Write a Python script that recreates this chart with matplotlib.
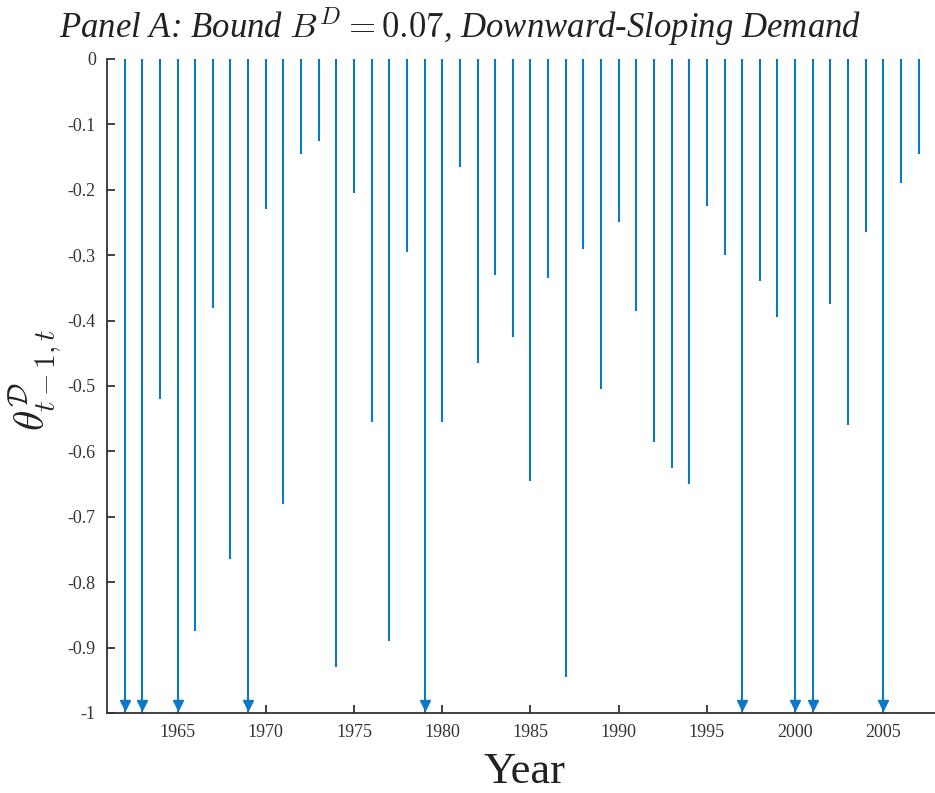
import numpy as np
import matplotlib
matplotlib.use('Agg')
import matplotlib.pyplot as plt

# years and theta values (values clipped at the -1 bound are stored as -1)
years = np.arange(1962, 2008)
theta = [-1.0, -1.0, -0.52, -1.0, -0.875, -0.38, -0.765, -1.0, -0.23, -0.68,
         -0.145, -0.125, -0.93, -0.205, -0.555, -0.89, -0.295, -1.0, -0.555, -0.165,
         -0.465, -0.33, -0.425, -0.645, -0.335, -0.945, -0.29, -0.505, -0.25, -0.385,
         -0.585, -0.625, -0.65, -0.225, -0.30, -1.0, -0.34, -0.395, -1.0, -1.0,
         -0.375, -0.56, -0.265, -1.0, -0.19, -0.145]
xticks = [1965, 1970, 1975, 1980, 1985, 1990, 1995, 2000, 2005]
yticks = [0, -0.1, -0.2, -0.3, -0.4, -0.5, -0.6, -0.7, -0.8, -0.9, -1]
ylabels = ['0', '-0.1', '-0.2', '-0.3', '-0.4', '-0.5', '-0.6', '-0.7', '-0.8', '-0.9', '-1']

plt.rcParams['font.family'] = ['Liberation Serif', 'DejaVu Serif']
plt.rcParams['mathtext.fontset'] = 'cm'
plt.rcParams['axes.unicode_minus'] = False

blue = '#0B78C8'

fig = plt.figure(figsize=(9.35, 7.93), dpi=100)
ax = fig.add_axes([0.1144, 0.1009, 0.887, 0.8247])

theta = np.array(theta)
ax.vlines(years, 0, theta, color=blue, lw=1.5)

clipped = theta <= -1
ax.plot(years[clipped], theta[clipped] + 0.012, linestyle='none', marker='v',
        markersize=6.5, color=blue, clip_on=False, zorder=3)

ax.set_xlim(1961, 2008)
ax.set_ylim(-1, 0)
ax.set_xticks(xticks)
ax.set_xticklabels([str(x) for x in xticks])
ax.set_yticks(yticks)
ax.set_yticklabels(ylabels)

for s in ['top', 'right']:
    ax.spines[s].set_visible(False)
for s in ['left', 'bottom']:
    ax.spines[s].set_linewidth(1.3)
    ax.spines[s].set_color('#333333')

ax.tick_params(direction='in', length=6, width=1.3, color='#333333',
               labelsize=13, labelcolor='#333333', pad=8)

ax.set_xlabel('Year', fontsize=32, color='#222222')
ax.xaxis.set_label_coords(0.504, -0.09)
ax.xaxis.label.set_va('center')

ax.set_ylabel(r'$\theta^{\mathcal{D}}_{t-1,t}$', fontsize=30, color='#222222')
ax.yaxis.set_label_coords(-0.087, 0.51)
ax.yaxis.label.set_va('center')

fig.text(0.492, 0.966, r'Panel A: Bound $B^{D} = 0.07$, Downward-Sloping Demand',
         fontsize=25, style='italic', ha='center', va='center', color='#222222')

fig.savefig('out.png', dpi=100)
